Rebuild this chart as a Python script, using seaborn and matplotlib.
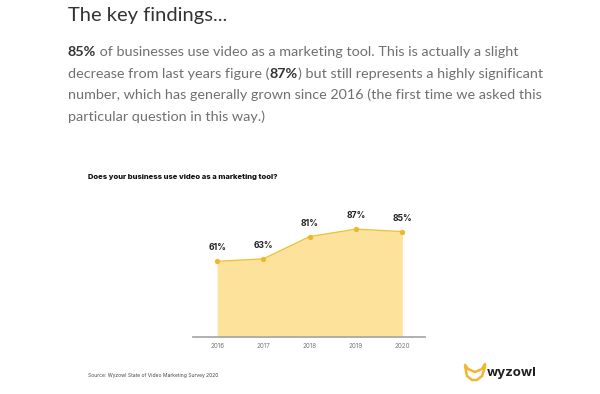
import matplotlib
matplotlib.use('Agg')
import matplotlib.pyplot as plt
import seaborn as sns
import pandas as pd
from matplotlib.lines import Line2D

# Data
years = [2016, 2017, 2018, 2019, 2020]
share = [61, 63, 81, 87, 85]
point_labels = ['61%', '63%', '81%', '87%', '85%']

heading = 'The key findings...'
para_lines = [
    [('85%', True), (' of businesses use video as a marketing tool. This is actually a slight', False)],
    [('decrease from last years figure (', False), ('87%', True), (') but still represents a highly significant', False)],
    [('number, which has generally grown since 2016 (the first time we asked this', False)],
    [('particular question in this way.)', False)],
]
chart_title = 'Does your business use video as a marketing tool?'
source = 'Source: Wyzowl State of Video Marketing Survey 2020'

df = pd.DataFrame({'year': years, 'share': share})

sns.set_theme(style='white')
plt.rcParams['font.family'] = ['Lato', 'DejaVu Sans']

W, H = 600, 394
fig = plt.figure(figsize=(W / 100, H / 100), dpi=100)
fig.patch.set_facecolor('white')

# axes placed in pixel coordinates
x0, x1, ytop, ybot = 193, 425, 213, 337
ax = fig.add_axes([x0 / W, 1 - ybot / H, (x1 - x0) / W, (ybot - ytop) / H])

fill_col = '#FDE29C'
line_col = '#EFC13A'
ax.fill_between(df['year'], df['share'], 0, color=fill_col, lw=0)
sns.lineplot(data=df, x='year', y='share', ax=ax, color=line_col, lw=1.0,
             marker='o', markersize=3.8, markeredgewidth=0, markerfacecolor='#EBB928')
for x, y, lab in zip(df['year'], df['share'], point_labels):
    ax.annotate(lab, (x, y), xytext=(0, 6.5), textcoords='offset points',
                ha='center', va='bottom', fontsize=6.2, fontweight='bold',
                color='#222222', family=['Inter', 'DejaVu Sans'])

ax.set_xlim(2016 - 0.52, 2020 + 0.49)
ax.set_ylim(0, 100)
ax.set_xticks(years)
ax.set_xticklabels([str(y) for y in years], fontsize=4.5, color='#777777',
                   family=['Inter', 'DejaVu Sans'])
ax.set_yticks([])
ax.set_xlabel('')
ax.set_ylabel('')
ax.tick_params(axis='x', length=0, pad=4)
for s in ['top', 'left', 'right']:
    ax.spines[s].set_visible(False)
ax.spines['bottom'].set_color('#aaaaaa')
ax.spines['bottom'].set_linewidth(1.3)
ax.patch.set_alpha(0)

# Heading and paragraph
fig.text(68 / W, 1 - 16 / H, heading, fontsize=14.5, color='#333333',
         va='center', ha='left')

renderer = fig.canvas.get_renderer()
line_y = [52, 74, 95, 117]
for segs, yy in zip(para_lines, line_y):
    xpix = 68
    for txt, bold in segs:
        t = fig.text(xpix / W, 1 - yy / H, txt, fontsize=10.4, va='center', ha='left',
                     color='#333333' if bold else '#707070',
                     fontweight='bold' if bold else 'normal')
        bb = t.get_window_extent(renderer=renderer)
        xpix += bb.width

fig.text(88 / W, 1 - 177 / H, chart_title, fontsize=5.5, fontweight='heavy',
         color='#111111', va='center', ha='left', family=['Inter', 'DejaVu Sans'])
fig.text(88 / W, 1 - 375 / H, source, fontsize=3.6, color='#444444',
         va='center', ha='left', family=['Inter', 'DejaVu Sans'])

# logo
fig.text(487 / W, 1 - 373 / H, 'wyzowl', fontsize=9.5, fontweight='bold',
         color='#1f1f1f', va='center', ha='left', family=['Inter', 'DejaVu Sans'])
ox = [465, 467, 472, 477, 482, 485, 485, 482, 475, 468, 465]
oy = [366, 376, 380, 380, 376, 367, 364, 369, 372, 369, 365]
fig.add_artist(Line2D([v / W for v in ox], [1 - v / H for v in oy],
                      color='#F2B630', lw=1.8, solid_joinstyle='round',
                      solid_capstyle='round'))

fig.savefig('out.png', dpi=100, facecolor='white')
